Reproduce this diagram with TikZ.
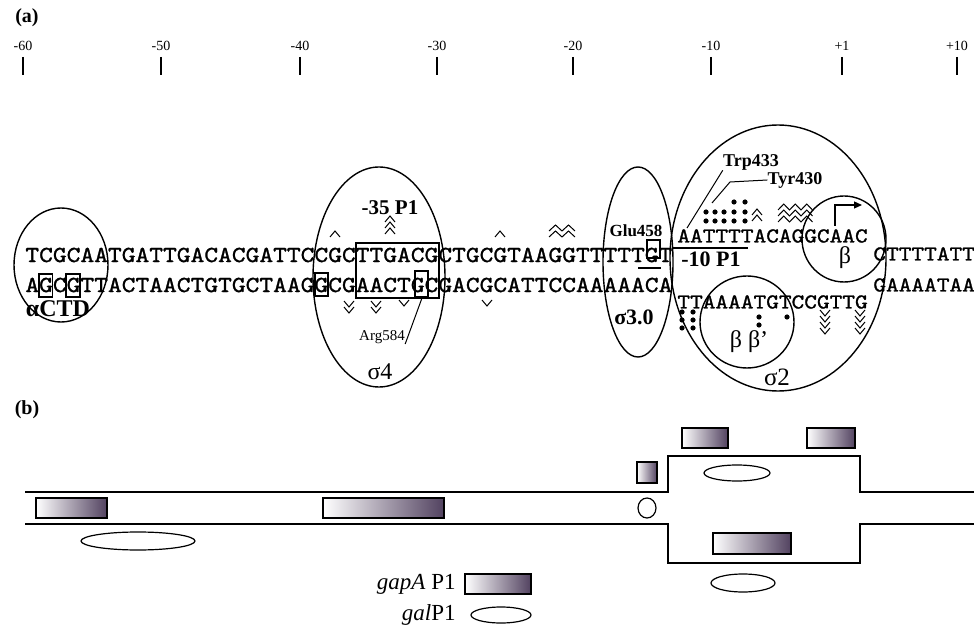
\documentclass[tikz,border=0pt]{standalone}
\usepackage{fontspec}
\setmainfont{Liberation Serif}
\newfontfamily\seqfont[FakeStretch=1.14,FakeBold=1.2]{lmmono10-regular.otf}
\usetikzlibrary{arrows.meta}
\definecolor{boxdark}{RGB}{82,66,96}

% stacked chevrons: x, top y, rows
\newcommand{\chevup}[3]{\foreach \k in {1,...,#3}{\draw[chev] ({#1-5},{#2+6+6*(\k-1)}) -- ({#1},{#2+6*(\k-1)}) -- ({#1+5},{#2+6+6*(\k-1)});}}
\newcommand{\chevdown}[3]{\foreach \k in {1,...,#3}{\draw[chev] ({#1-5},{#2-6+6*(\k-1)}) -- ({#1},{#2+6*(\k-1)}) -- ({#1+5},{#2-6+6*(\k-1)});}}
% zigzag: left x, top y, peaks, rows, peak width
\newcommand{\zigup}[5]{\foreach \k in {1,...,#4}{\draw[chev] ({#1},{#2+6+6*(\k-1)}) \foreach \p in {1,...,#3}{ -- ({#1+#5*\p-#5/2},{#2+6*(\k-1)}) -- ({#1+#5*\p},{#2+6+6*(\k-1)})};}}

\begin{document}
\begin{tikzpicture}[x=0.5pt,y=-0.5pt,
    seq/.style={font=\seqfont\fontsize{11.5}{12}\selectfont, inner sep=0pt, anchor=west},
    seqs/.style={font=\seqfont\fontsize{10.6}{12}\selectfont, inner sep=0pt, anchor=west},
    lab/.style={font=\bfseries\fontsize{9}{10}\selectfont, inner sep=0pt},
    dom/.style={font=\fontsize{12}{13}\selectfont, inner sep=0pt},
    tick/.style={font=\fontsize{7}{8}\selectfont, inner sep=0pt},
    chev/.style={line width=0.5pt},
    gap/.style={draw=black, line width=0.6pt, left color=white, right color=boxdark},
    gal/.style={draw=black, line width=0.6pt, fill=white},
    dna/.style={line width=0.9pt}]
\useasboundingbox (0,0) rectangle (974,625);

% (a) sequence
\node[font=\bfseries\fontsize{10}{11}\selectfont] (parta) at (27,18) {(a)};
\foreach \px/\lbl in {23/-60,161/-50,300/-40,437/-30,573/-20,711/-10,842/+1,957/+10}{
    \draw[line width=0.6pt] (\px,57) -- (\px,75);
    \node[tick] (tick\px) at (\px,46) {\lbl};
}

\node[seq] (top1) at (25,255) {TCGCAATGATTGACACGATTCCGCTTGACGCTGCGTAAGGTTTTTGT};
\node[seq] (bot1) at (25,285) {AGCGTTACTAACTGTGCTAAGGCGAACTGCGACGCATTCCAAAAACA};
\node[seqs] (top2) at (677,236) {AATTTTACAGGCAAC};
\node[seqs] (bot2) at (677,302) {TTAAAATGTCCGTTG};
\node[seqs] (top3) at (873,254) {CTTTTATT};
\node[seqs] (bot3) at (873,285) {GAAAATAA};

% domains
\draw[line width=0.7pt] (61,265) ellipse [x radius=47, y radius=57];
\draw[line width=0.7pt] (379,277) ellipse [x radius=66, y radius=110];
\draw[line width=0.7pt] (638,262) ellipse [x radius=35, y radius=95];
\draw[line width=0.7pt] (778,258) ellipse [x radius=108, y radius=133];
\draw[line width=0.7pt] (844,239) ellipse [x radius=42, y radius=43];
\draw[line width=0.7pt] (747,322) ellipse [x radius=47, y radius=46];

\node[dom, font=\bfseries\fontsize{12}{13}\selectfont] (actd) at (58,309) {αCTD};
\node[dom] (sig4) at (380,372) {σ4};
\node[dom, font=\bfseries\fontsize{11}{12}\selectfont] (sig30) at (634,317) {σ3.0};
\node[dom, font=\fontsize{12.5}{13}\selectfont] (sig2) at (777,377) {σ2};
\node[dom] (beta) at (845,258) {β};
\node[dom] (betab) at (749,342) {β β'};

% boxed bases
\draw[line width=0.6pt] (39,274) rectangle (52.5,297);
\draw[line width=0.6pt] (66,274) rectangle (80,297);
\draw[line width=0.6pt] (315,273) rectangle (328,296);
\draw[line width=0.6pt] (415,271) rectangle (428,297);
\draw[line width=0.7pt] (356,243) rectangle (439,298);
\draw[line width=0.6pt] (647,240) rectangle (660,258);
\draw[line width=0.6pt] (638,268) -- (661,268);
\draw[line width=0.6pt] (672,248) -- (748,248);

% labels
\node[lab, font=\bfseries\fontsize{10.5}{11}\selectfont] (m35) at (390,208) {-35 P1};
\node[lab, font=\bfseries\fontsize{11}{12}\selectfont] (m10) at (711,259) {-10 P1};
\node[lab, font=\fontsize{7.5}{9}\selectfont] (arg) at (382,337) {Arg584};
\coordinate (argend) at (422,298);
\draw[line width=0.5pt] (arg.south east) -- (argend);
\node[lab, font=\bfseries\fontsize{8.5}{10}\selectfont] (glu) at (636,231) {Glu458};
\node[lab] (trp) at (751,162) {Trp433};
\coordinate (trpend) at (687,228);
\draw[line width=0.5pt] (trp.south west) -- (trpend);
\node[lab] (tyr) at (795,180) {Tyr430};
\coordinate (tyrend) at (712,203);
\draw[line width=0.5pt] (tyr.west) -- (730,182) -- (tyrend);

% transcription start
\coordinate (tss) at (835,226);
\coordinate (tsstip) at (862,205);
\draw[line width=0.6pt, -{Triangle[length=4pt,width=3.5pt]}] (tss) |- (tsstip);

% chevrons
\chevup{335}{231}{1}
\chevup{390}{216}{3}
\chevup{500}{231}{1}
\zigup{549}{225}{2}{2}{13}
\chevdown{349}{307}{2}
\chevdown{376}{307}{2}
\chevdown{404}{306}{1}
\chevdown{487}{306}{1}
\chevup{757}{209}{2}
\zigup{778}{204}{3}{3}{11.5}
\chevdown{825}{316}{4}
\chevdown{860}{316}{4}

% dots
\foreach \dx in {706,715,724,734,745}{
    \fill (\dx,212) circle [radius=2.6];
    \fill (\dx,221) circle [radius=2.6];
}
\fill (734,202) circle [radius=2.6];
\fill (745,202) circle [radius=2.6];
\foreach \dy in {312,320,328}{
    \fill (682,\dy) circle [radius=2.6];
    \fill (693,\dy) circle [radius=2.6];
}
\fill (759,317) circle [radius=2.6];
\fill (759,325) circle [radius=2.6];
\fill (787,317) circle [radius=2.6];

% (b) footprints
\node[font=\bfseries\fontsize{10}{11}\selectfont] (partb) at (27,410) {(b)};
\draw[dna] (25,492) -- (668,492) -- (668,456) -- (860,456) -- (860,492) -- (974,492);
\draw[dna] (25,524) -- (668,524) -- (668,563) -- (860,563) -- (860,524) -- (974,524);

\draw[gap] (36,498) rectangle (107,518);
\draw[gap] (323,498) rectangle (444,518);
\draw[gap] (637,462) rectangle (657,483);
\draw[gap] (682,428) rectangle (728,448);
\draw[gap] (807,428) rectangle (855,448);
\draw[gap] (713,533) rectangle (791,554);

\draw[gal] (138,541) ellipse [x radius=57, y radius=9];
\draw[gal] (647,508) ellipse [x radius=9, y radius=10];
\draw[gal] (737,473) ellipse [x radius=33, y radius=8];
\draw[gal] (743,583) ellipse [x radius=32, y radius=9];

% legend
\node[anchor=east, font=\fontsize{11.5}{13}\selectfont, inner sep=0pt] (leggap) at (456,584) {\textit{gapA} P1};
\draw[gap] (465,574) rectangle (531,594);
\node[anchor=east, font=\fontsize{11.5}{13}\selectfont, inner sep=0pt] (leggal) at (456,615) {\textit{gal}P1};
\draw[gal] (501,615) ellipse [x radius=30, y radius=8];
\end{tikzpicture}
\end{document}
